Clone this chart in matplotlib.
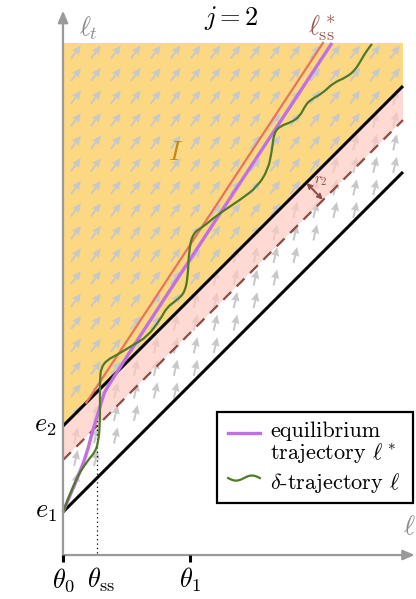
import numpy as np
import matplotlib.pyplot as plt
from matplotlib.patches import Polygon, Rectangle, PathPatch
from matplotlib.path import Path

plt.rcParams['mathtext.fontset'] = 'cm'
plt.rcParams['font.family'] = ['cmr10', 'DejaVu Serif']
plt.rcParams['axes.unicode_minus'] = False

# levels on the vertical axis
e1 = 0.323
e2 = 1.0
e_dash = 0.732          # dashed boundary (e2 - r2)
theta_ss = 0.268
theta_1 = 1.0
x_end = 2.677           # right end of the shaded field
y_top = 4.016           # top of the shaded field

# steady state line  l = ss_a + ss_b * theta
ss_a = 0.905
ss_b = 1.52

# equilibrium trajectory l*
eq_theta = [0.0, 0.118, 0.189, 0.228, 0.268, 0.307, 0.346, 2.118]
eq_l = [0.323, 0.598, 0.787, 0.945, 1.071, 1.205, 1.323, 4.016]

# delta-trajectory l
dt_theta = [0.0, 0.094, 0.197, 0.252, 0.276, 0.291, 0.291, 0.291, 0.299, 0.346,
            0.425, 0.551, 0.661, 0.764, 0.819, 0.898, 0.961, 0.984, 0.992, 1.024,
            1.102, 1.213, 1.394, 1.528, 1.614, 1.646, 1.661, 1.709, 1.803, 1.866,
            1.906, 1.945, 2.047, 2.126, 2.236, 2.299, 2.339, 2.394, 2.433]
dt_l = [0.323, 0.575, 0.732, 0.795, 0.866, 1.008, 1.205, 1.362, 1.457, 1.520,
        1.559, 1.638, 1.701, 1.835, 1.937, 1.992, 2.055, 2.189, 2.386, 2.520,
        2.567, 2.661, 2.780, 2.882, 3.016, 3.173, 3.307, 3.362, 3.394, 3.441,
        3.520, 3.567, 3.622, 3.701, 3.748, 3.803, 3.866, 3.961, 4.008]

# arrow field grid
grid_x = 0.102 + 0.157 * np.arange(17)
grid_y = 3.945 - 0.1776 * np.arange(20)

orange = '#FDD883'
pink = '#FFC9C2'
gray = '#9A9A9A'
brown = '#8E4A42'


def smooth_path(xs, ys):
    # quadratic bezier through midpoints, data points act as control points
    pts = np.column_stack([xs, ys])
    verts = [pts[0]]
    codes = [Path.MOVETO]
    for i in range(1, len(pts) - 1):
        mid = (pts[i] + pts[i + 1]) / 2
        end = mid if i < len(pts) - 2 else pts[-1]
        verts += [pts[i], end]
        codes += [Path.CURVE3, Path.CURVE3]
    return Path(verts, codes)


fig = plt.figure(figsize=(4.16, 5.99), dpi=100)
ax = fig.add_axes([0, 0, 1, 1])
ax.set_xlim(-63 / 127, 353 / 127)
ax.set_ylim(-46 / 127, 553 / 127)
ax.axis('off')

# orange region I
ax.add_patch(Polygon([(0, e2), (0, y_top), (x_end, y_top), (x_end, e2 + x_end)],
                     closed=True, facecolor=orange, edgecolor='none', zorder=1))

# arrows
GX, GY = np.meshgrid(grid_x, grid_y)
gx, gy = GX.ravel(), GY.ravel()
keep = (gy > e1 + gx + 0.06) & (gy < y_top - 0.03)
gx, gy = gx[keep], gy[keep]
upper = gy > e2 + gx
ang = np.where(upper, np.radians(53), np.radians(77))
L = 0.13
ax.quiver(gx, gy, L * np.cos(ang), L * np.sin(ang), angles='xy', scale_units='xy',
          scale=1, pivot='middle', color='#C8C8C8', width=0.0048,
          headwidth=4.2, headlength=4.6, headaxislength=4.2, zorder=2)

# pink band
ax.add_patch(Polygon([(0, e_dash), (0, e2), (x_end, e2 + x_end), (x_end, e_dash + x_end)],
                     closed=True, facecolor=pink, alpha=0.7, edgecolor='none', zorder=3))

xs = np.array([0, x_end])
ax.plot(xs, e_dash + xs, color=brown, lw=1.6, dashes=(5, 3.5), zorder=4)
ax.plot(xs, e2 + xs, color='black', lw=2.2, zorder=5, solid_capstyle='butt')
ax.plot(xs, e1 + xs, color='black', lw=2.2, zorder=5, solid_capstyle='butt')

# steady state line
t0 = (e2 - ss_a) / (ss_b - 1)
ts = np.array([t0, (y_top - ss_a) / ss_b])
ax.plot(ts, ss_a + ss_b * ts, color='#E8735C', lw=1.6, zorder=6)

ax.add_patch(PathPatch(smooth_path(eq_theta, eq_l), facecolor='none',
                       edgecolor='#C070E4', lw=2.4, zorder=7))
ax.add_patch(PathPatch(smooth_path(dt_theta, dt_l), facecolor='none',
                       edgecolor='#4E7A27', lw=1.6, zorder=8))

# dotted theta_ss marker
ax.plot([theta_ss, theta_ss], [0, 1.07], color='black', lw=0.9, ls=(0, (1, 2.5)), zorder=4)

# axes
ax.annotate('', xy=(0, 4.27), xytext=(0, -0.06),
            arrowprops=dict(arrowstyle='-|>,head_length=0.7,head_width=0.3',
                            color=gray, lw=1.6, shrinkA=0, shrinkB=0), zorder=9)
ax.annotate('', xy=(2.77, -0.016), xytext=(0, -0.016),
            arrowprops=dict(arrowstyle='-|>,head_length=0.7,head_width=0.3',
                            color=gray, lw=1.6, shrinkA=0, shrinkB=0), zorder=9)
for t in [0, theta_1]:
    ax.plot([t, t], [-0.016, -0.07], color='black', lw=2.2, zorder=10,
            solid_capstyle='butt')

# r2 marker
ax.annotate('', xy=(2.045, 2.782), xytext=(1.918, 2.913),
            arrowprops=dict(arrowstyle='<->,head_length=0.3,head_width=0.15',
                            color=brown, lw=1.4, shrinkA=0, shrinkB=0), zorder=9)
ax.text(2.03, 2.93, r'$r_2$', color=brown, fontsize=11, ha='center', va='center', zorder=9)

# labels
fs = 19
ax.text(0.2, 4.13, r'$\ell_t$', color='#8A8A8A', fontsize=fs, ha='center', va='center')
ax.text(2.73, 0.2, r'$\ell$', color='#8A8A8A', fontsize=fs, ha='center', va='center')
ax.text(1.33, 4.21, r'$j = 2$', fontsize=fs, ha='center', va='center')
ax.text(2.04, 4.13, r'$\ell^*_{\rm ss}$', color='#9B5B55', fontsize=fs, ha='center',
        va='center')
ax.text(0.89, 3.15, r'$I$', color='#C08A10', fontsize=fs, ha='center', va='center')
ax.text(-0.05, e2, r'$e_2$', fontsize=fs, ha='right', va='center')
ax.text(-0.05, e1, r'$e_1$', fontsize=fs, ha='right', va='center')
ax.text(0, -0.21, r'$\theta_0$', fontsize=fs, ha='center', va='center')
ax.text(theta_ss + 0.03, -0.21, r'$\theta_{\rm ss}$', fontsize=fs, ha='center', va='center')
ax.text(theta_1, -0.21, r'$\theta_1$', fontsize=fs, ha='center', va='center')

# legend
ax.add_patch(Rectangle((1.213, 0.394), 1.543, 0.716, facecolor='white',
                       edgecolor='black', lw=1.6, zorder=11))
ax.plot([1.30, 1.55], [0.946, 0.946], color='#C070E4', lw=2.4, zorder=12)
wx = np.linspace(1.30, 1.55, 40)
ax.plot(wx, 0.59 + 0.02 * np.sin((wx - 1.30) / 0.25 * 2 * np.pi + np.pi),
        color='#4E7A27', lw=1.6, zorder=12)
lfs = 16
ax.text(1.63, 0.955, 'equilibrium', fontsize=lfs, ha='left', va='center', zorder=12)
ax.text(1.63, 0.78, r'trajectory $\ell^*$', fontsize=lfs, ha='left', va='center', zorder=12)
ax.text(1.63, 0.55, r'$\delta$-trajectory $\ell$', fontsize=lfs, ha='left', va='center',
        zorder=12)

fig.savefig('out.png', dpi=100)
